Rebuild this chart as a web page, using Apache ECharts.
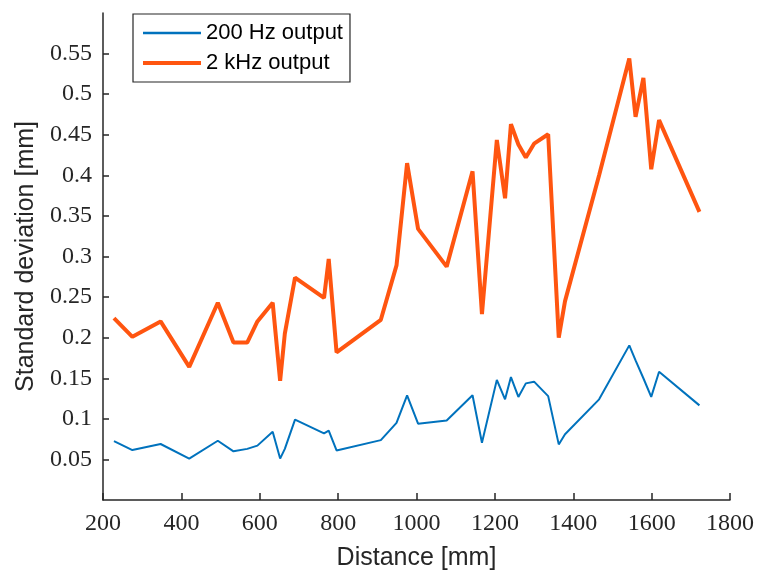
<!DOCTYPE html>
<html>
<head>
<meta charset="utf-8">
<script src="https://cdn.jsdelivr.net/npm/echarts@6/dist/echarts.min.js"></script>
<style>
  html, body { margin: 0; padding: 0; background: #fff; }
  #chart { width: 758px; height: 576px; }
</style>
</head>
<body>
<div id="chart"></div>
<script>
// Measurement distances (mm), shared by both output rates
const distances = [228, 275, 347, 420, 493, 533, 568, 594, 633, 652, 664, 690, 764, 776, 796,
  909, 949, 976, 1004, 1077, 1143, 1167, 1205, 1226, 1241, 1260, 1279, 1300, 1336, 1363,
  1379, 1466, 1543, 1559, 1579, 1599, 1619, 1722];

// Standard deviation (mm) at 200 Hz output
const std200Hz = [0.0726, 0.0615, 0.069, 0.051, 0.073, 0.060, 0.063, 0.067, 0.084, 0.051,
  0.063, 0.099, 0.082, 0.0854, 0.061, 0.0738, 0.095, 0.129, 0.094, 0.098, 0.129, 0.0706,
  0.148, 0.124, 0.1515, 0.127, 0.1437, 0.1458, 0.128, 0.0685, 0.081, 0.124, 0.1905, 0.172,
  0.150, 0.127, 0.158, 0.1166];

// Standard deviation (mm) at 2 kHz output
const std2kHz = [0.224, 0.201, 0.220, 0.164, 0.243, 0.194, 0.194, 0.220, 0.243, 0.147,
  0.205, 0.274, 0.249, 0.297, 0.182, 0.222, 0.289, 0.415, 0.334, 0.2875, 0.405, 0.229,
  0.4436, 0.3717, 0.463, 0.438, 0.422, 0.439, 0.4506, 0.200, 0.245, 0.400, 0.544, 0.472,
  0.520, 0.4075, 0.468, 0.355];

// Tick positions
const xTicks = [200, 400, 600, 800, 1000, 1200, 1400, 1600, 1800];
const yTicks = [0.05, 0.1, 0.15, 0.2, 0.25, 0.3, 0.35, 0.4, 0.45, 0.5, 0.55];

const pairs = (xs, ys) => xs.map((x, i) => [x, ys[i]]);

const axisColor = '#262626';
const blue = '#0072BD';
const orange = '#FF5510';
const tickFont = { fontFamily: 'Liberation Serif', fontSize: 24, color: axisColor };
const nameFont = { fontFamily: 'Liberation Sans', fontSize: 25, color: axisColor };

const chart = echarts.init(document.getElementById('chart'), null, { renderer: 'canvas' });
chart.setOption({
  animation: false,
  backgroundColor: '#fff',
  grid: { left: 103, right: 28, top: 13, bottom: 76, containLabel: false },
  xAxis: {
    type: 'value',
    min: 200, max: 1800, interval: 200,
    name: 'Distance [mm]',
    nameLocation: 'middle',
    nameGap: 46,
    nameTextStyle: nameFont,
    axisLine: { show: true, onZero: false, lineStyle: { color: axisColor, width: 1.5 } },
    axisTick: { show: true, inside: true, length: 7, customValues: xTicks,
      lineStyle: { color: axisColor, width: 1.5 } },
    axisLabel: { margin: 12, customValues: xTicks, formatter: v => String(v), ...tickFont },
    splitLine: { show: false }
  },
  yAxis: {
    type: 'value',
    min: 0, max: 0.6, interval: 0.05,
    name: 'Standard deviation [mm]',
    nameLocation: 'middle',
    nameGap: 61,
    nameTextStyle: nameFont,
    axisLine: { show: true, onZero: false, lineStyle: { color: axisColor, width: 1.5 } },
    axisTick: { show: true, inside: true, length: 6, customValues: yTicks,
      lineStyle: { color: axisColor, width: 1.5 } },
    axisLabel: { margin: 11, customValues: yTicks, formatter: v => String(+v.toFixed(2)), ...tickFont },
    splitLine: { show: false }
  },
  legend: {
    orient: 'vertical',
    left: 133, top: 14,
    padding: [8, 7, 8, 8],
    itemWidth: 58, itemHeight: 14, itemGap: 8,
    borderColor: axisColor, borderWidth: 1.2,
    backgroundColor: '#fff',
    itemStyle: { opacity: 0 },
    textStyle: { fontFamily: 'Liberation Sans', fontSize: 22, lineHeight: 21, color: '#000' },
    data: [
      { name: '200 Hz output', lineStyle: { color: blue, width: 2.5 } },
      { name: '2 kHz output', lineStyle: { color: orange, width: 4 } }
    ]
  },
  series: [
    {
      name: '200 Hz output',
      type: 'line',
      data: pairs(distances, std200Hz),
      symbol: 'none',
      lineStyle: { color: blue, width: 2 },
      itemStyle: { color: blue }
    },
    {
      name: '2 kHz output',
      type: 'line',
      data: pairs(distances, std2kHz),
      symbol: 'none',
      lineStyle: { color: orange, width: 4 },
      itemStyle: { color: orange }
    }
  ]
});
</script>
</body>
</html>
